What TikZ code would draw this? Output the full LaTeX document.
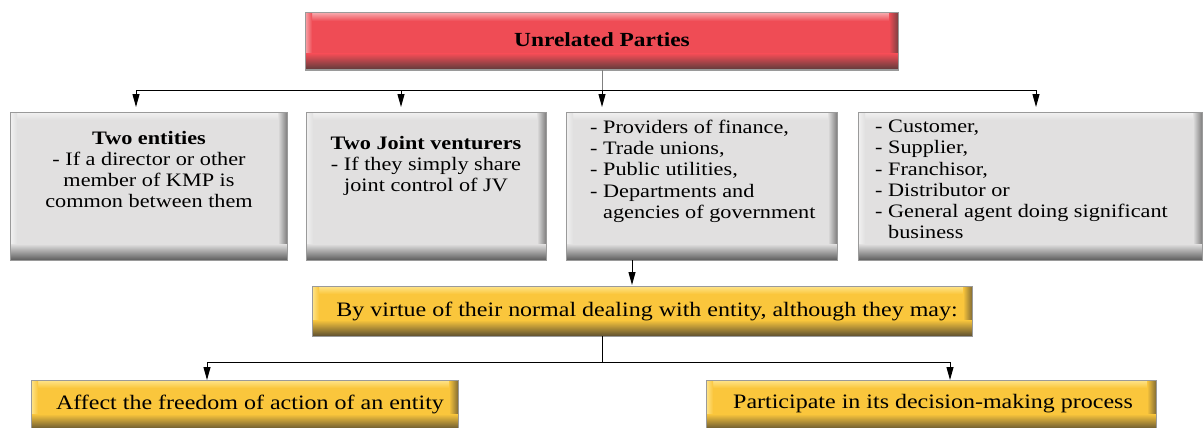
\documentclass[tikz,border=0pt]{standalone}
\usepackage{fontspec}
\setmainfont{Liberation Serif}[FakeStretch=1.17]
\usetikzlibrary{arrows.meta,calc,backgrounds}
\definecolor{gbase}{HTML}{E1E0E0}
\definecolor{glight}{HTML}{F2F2F2}
\definecolor{gdark}{HTML}{5E5E5E}
\definecolor{rbase}{HTML}{EF4C55}
\definecolor{rlight}{HTML}{F7A6AA}
\definecolor{rdark}{HTML}{5A3A3A}
\definecolor{ybase}{HTML}{FAC63C}
\definecolor{ylight}{HTML}{FFE58C}
\definecolor{ydark}{HTML}{5E5030}
\definecolor{edgegray}{HTML}{9A9A9A}
\newcommand{\bevelbox}[4]{%
  \begin{scope}[on background layer]
    \fill[#2] (#1.north west) rectangle (#1.south east);
    \shade[top color=#3, bottom color=#2] (#1.north west) rectangle ($(#1.north east)+(0,8)$);
    \shade[left color=#3, right color=#2] (#1.north west) rectangle ($(#1.south west)+(7,0)$);
    \shade[left color=#2, right color=#4!75!#2] ($(#1.north east)+(-9,0)$) rectangle (#1.south east);
    \shade[top color=#2, bottom color=#4] ($(#1.south west)+(0,-16)$) rectangle (#1.south east);
    \draw[edgegray, line width=1pt] (#1.north west) rectangle (#1.south east);
  \end{scope}}
\tikzset{
  boxshape/.style={rectangle, inner sep=0pt, outer sep=0pt},
  boxtext/.style={inner sep=0pt, font=\fontsize{19}{21.2}\selectfont},
  bigtext/.style={inner sep=0pt, font=\fontsize{20.5}{24}\selectfont},
  linkline/.style={line width=1pt, black},
  linkarrow/.style={line width=1pt, black, -{Triangle[length=13pt,width=7pt]}},
}
\begin{document}
\begin{tikzpicture}[x=1pt,y=-1pt]
\useasboundingbox (0,0) rectangle (1204,428);
% boxes
\node[boxshape, minimum width=593pt, minimum height=57pt] (top) at (601.5,41.5) {};
\node[boxshape, minimum width=277pt, minimum height=148pt] (b1) at (148.5,186) {};
\node[boxshape, minimum width=240pt, minimum height=148pt] (b2) at (426,186) {};
\node[boxshape, minimum width=271pt, minimum height=148pt] (b3) at (701.5,186) {};
\node[boxshape, minimum width=344pt, minimum height=148pt] (b4) at (1030,186) {};
\node[boxshape, minimum width=660pt, minimum height=50pt] (mid) at (642,311) {};
\node[boxshape, minimum width=427pt, minimum height=50pt] (bl) at (244.5,405) {};
\node[boxshape, minimum width=450pt, minimum height=50pt] (br) at (931,405) {};
\bevelbox{top}{rbase}{rlight}{rdark}
\bevelbox{b1}{gbase}{glight}{gdark}
\bevelbox{b2}{gbase}{glight}{gdark}
\bevelbox{b3}{gbase}{glight}{gdark}
\bevelbox{b4}{gbase}{glight}{gdark}
\bevelbox{mid}{ybase}{ylight}{ydark}
\bevelbox{bl}{ybase}{ylight}{ydark}
\bevelbox{br}{ybase}{ylight}{ydark}
% texts
\node[boxtext, font=\fontsize{20}{22}\selectfont\bfseries] (ttop) at (602,40) {Unrelated Parties};
\node[boxtext, anchor=north, align=center] (t1) at (149,131) {\textbf{Two entities}\\- If a director or other\\member of KMP is\\common between them};
\node[boxtext, anchor=north, align=center] (t2) at (426,136) {\textbf{Two Joint venturers}\\- If they simply share\\joint control of JV};
\node[boxtext, anchor=north west, align=left] (t3) at (590,120) {- Providers of finance,\\- Trade unions,\\- Public utilities,\\- Departments and\\\hphantom{- }agencies of government};
\node[boxtext, anchor=north west, align=left] (t4) at (875,120) {- Customer,\\- Supplier,\\- Franchisor,\\- Distributor or\\- General agent doing significant\\\hphantom{- }business};
\node[bigtext] (tmid) at (647,311) {By virtue of their normal dealing with entity, although they may:};
\node[bigtext] (tbl) at (250,404) {Affect the freedom of action of an entity};
\node[bigtext] (tbr) at (933,404) {Participate in its decision-making process};
% connectors
\coordinate (bus) at (602,90);
\coordinate (a1) at (136,107);
\coordinate (a2) at (401,107);
\coordinate (a3) at (602,107);
\coordinate (a4) at (1036,107);
\draw[line width=1pt, gray] (top.south -| bus) -- (bus);
\draw[linkarrow] (bus) -| (a1);
\draw[linkarrow] (bus) -| (a2);
\draw[linkarrow] (bus) -- (a3);
\draw[linkarrow] (bus) -| (a4);
\coordinate (s3) at (632,260);
\coordinate (m3) at (632,285);
\draw[linkarrow] (s3) -- (m3);
\coordinate (bus2) at (602,362);
\coordinate (c1) at (207,380);
\coordinate (c2) at (950,380);
\draw[linkline] (mid.south -| bus2) -- (bus2);
\draw[linkarrow] (bus2) -| (c1);
\draw[linkarrow] (bus2) -| (c2);
\end{tikzpicture}
\end{document}
